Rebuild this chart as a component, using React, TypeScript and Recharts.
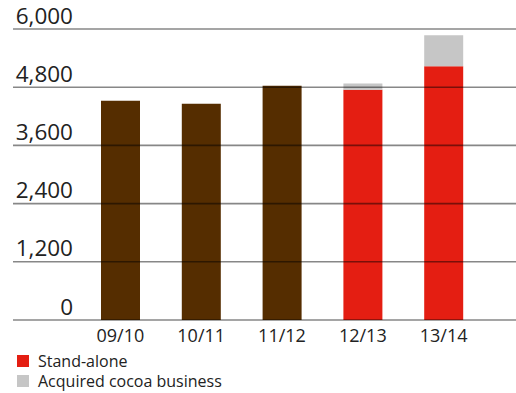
import React from "react";
import { BarChart, Bar, XAxis, YAxis, Cell, ReferenceLine, Legend } from "recharts";

const categories = ["09/10", "10/11", "11/12", "12/13", "13/14"];
const standAlone = [4520, 4460, 4830, 4750, 5230];
const acquired = [0, 0, 0, 125, 640];
const yTicks = [0, 1200, 2400, 3600, 4800, 6000];
const barColors = ["#552d00", "#552d00", "#552d00", "#e41e12", "#e41e12"];

const data = categories.map((c, i) => ({ name: c, standAlone: standAlone[i], acquired: acquired[i] }));

const FONT = "'Open Sans', sans-serif";

const YTick = (props: any) => {
  const { x, y, payload } = props;
  return (
    <text x={x + 60} y={y - 5.5} textAnchor="end" fontSize={22.5} fontFamily={FONT} fill="#222">
      {payload.value.toLocaleString("en-US")}
    </text>
  );
};

const XTick = (props: any) => {
  const { x, y, payload } = props;
  return (
    <text x={x} y={y + 14} textAnchor="middle" fontSize={18} fontFamily={FONT} fill="#222">
      {payload.value}
    </text>
  );
};

const legendItems = [
  { label: "Stand-alone", color: "#e41e12" },
  { label: "Acquired cocoa business", color: "#c6c6c6" },
];

const LegendContent = () => (
  <div style={{ fontFamily: FONT, fontSize: 16, color: "#222" }}>
    {legendItems.map((it) => (
      <div key={it.label} style={{ display: "flex", alignItems: "center", height: 20 }}>
        <span style={{ display: "inline-block", width: 12, height: 12, background: it.color, marginRight: 9 }} />
        <span>{it.label}</span>
      </div>
    ))}
  </div>
);

export default function App() {
  return (
    <div style={{ position: "absolute", left: 0, top: 0, width: 516, height: 393, background: "#fff" }}>
      <BarChart width={516} height={393} data={data} margin={{ top: 29, right: 0, left: 12, bottom: 3 }}>
        <XAxis
          dataKey="name"
          axisLine={false}
          tickLine={false}
          tick={<XTick />}
          height={30}
          padding={{ left: 67, right: 32 }}
          interval={0}
        />
        <YAxis
          width={1}
          domain={[0, 6000]}
          ticks={yTicks}
          axisLine={false}
          tickLine={false}
          tickSize={0}
          tickMargin={0}
          tick={<YTick />}
          interval={0}
        />
        <Bar dataKey="standAlone" stackId="a" barSize={39} isAnimationActive={false}>
          {data.map((d, i) => (
            <Cell key={d.name} fill={barColors[i]} />
          ))}
        </Bar>
        <Bar dataKey="acquired" stackId="a" barSize={39} fill="#c6c6c6" isAnimationActive={false} />
        {yTicks.map((t) => (
          <ReferenceLine key={t} y={t} stroke="#000" strokeOpacity={0.47} strokeWidth={1.6} />
        ))}
        <Legend
          content={<LegendContent />}
          wrapperStyle={{ position: "absolute", left: 17, top: 351, width: 300, height: 40 }}
        />
      </BarChart>
    </div>
  );
}
